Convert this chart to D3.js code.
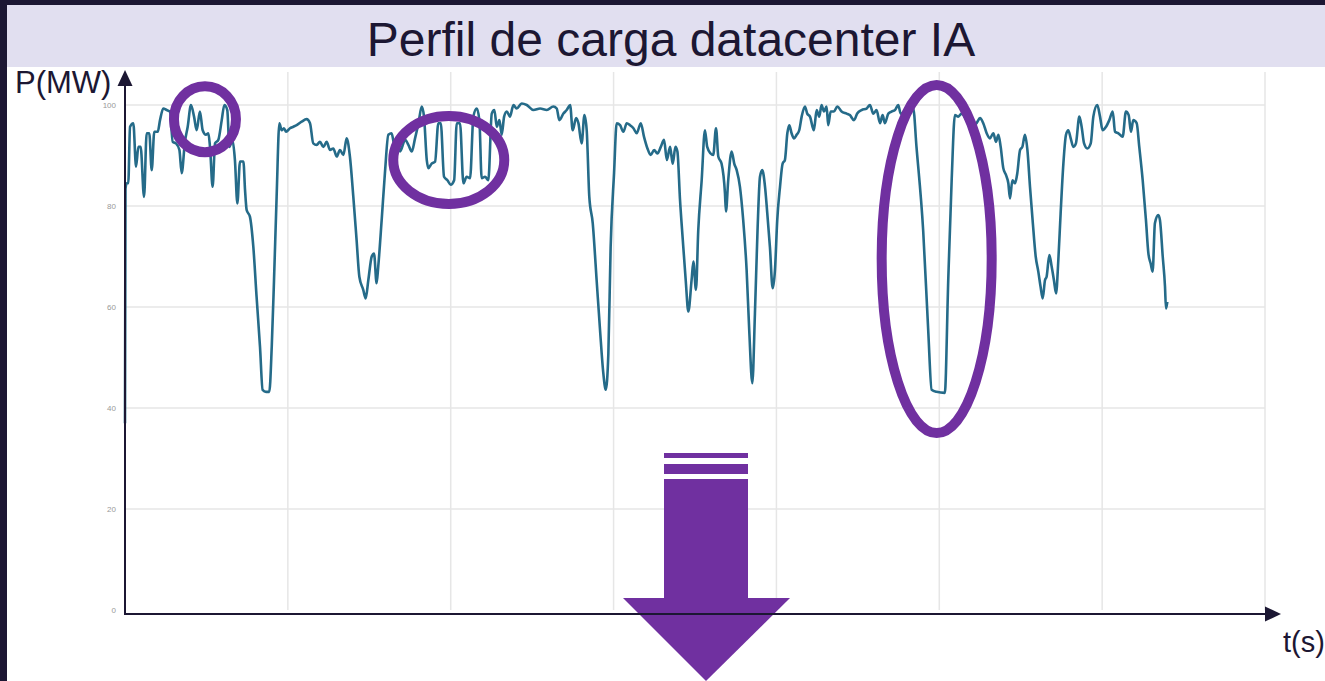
<!DOCTYPE html>
<html>
<head>
<meta charset="utf-8">
<script src="https://cdn.jsdelivr.net/npm/d3@7"></script>
<style>
  html, body { margin: 0; padding: 0; background: #1c1733; }
  svg { display: block; }
</style>
</head>
<body>
<svg id="chart" width="1325" height="681"></svg>
<script>
// time (s) and power (MW)
const timeS = [
  0, 0.3, 1, 2, 3.1, 5.1, 6.8, 8.2, 9.6, 11.7, 13.3, 14.9, 16.4, 18.0, 20.1, 21.5, 23.5, 25.6, 27.6, 29.3,
  31.3, 33.4, 34.8, 36.8, 38.5, 40.5, 42.4, 44, 46, 47.7, 49.7, 51.2, 52.2, 53.8, 55.3, 57.3, 59.4, 61, 62.8, 64.1,
  65.9, 67.5, 69, 70.6, 72.7, 73.7, 74.7, 76.7, 78.8, 80.8, 82.9, 84.5, 86.6, 88.6, 90.1, 91.5, 93.1, 94.8, 96.2, 97.6,
  98.9, 101.3, 103.4, 105.4, 108.5, 111.5, 113.6, 115.6, 117.7, 119.7, 121.8, 123.8, 125.9, 127.9, 130, 132, 134.1, 136.1, 138.1, 140.2,
  142.2, 143.9, 146.3, 147.8, 149.4, 151.5, 152.9, 154.5, 155.5, 157.6, 159.6, 161.7, 163.7, 165.5, 167,
  168.9, 172, 174, 176.1, 178.1, 180.2, 182.2, 183.6, 185.3, 186.3, 188.3, 190.4, 192.4, 193.9, 195.9, 198, 200, 202.1, 203.7, 205.7,
  207.8, 209.8, 211.9, 213.9, 216, 217.6, 219, 221.1, 223.1, 225.2, 226.8, 228.3, 229.9, 231.3, 232.8, 234.4, 236.4, 238.5, 240.5, 243.6,
  246.7, 250.8, 254.9, 259, 263, 265.1, 266.7, 269.2, 271.2, 273.3, 274.9, 277, 278.4, 280.4, 282.1, 283.5, 285.1, 287.2, 289.6, 291.7,
  293.7, 295.2, 296.8, 298.2, 300.3, 301.9, 304, 306, 308.1, 310.1, 312.2, 314.2, 316.7, 318.7, 320.8, 322.8, 324.9, 326.9, 329, 331,
  332.7, 334.7, 336.3, 338, 339.2, 340.8, 342.5, 344.3, 345.9,
  347.9, 349, 350.6, 352, 354.1, 356.1, 357.5, 359.6, 361.2, 362.9, 364.3, 366.3, 368.4, 369, 370.4, 372.5, 374.1, 375.6, 377.6, 379.6,
  381.7, 383.3, 385.2, 386.8, 388.4, 389.9, 391.3, 393, 394.4, 396, 397.7, 399.1, 400.5, 402.2, 403.8, 405.2, 406.7, 407.9, 409.3, 410.8,
  412.4, 414, 415.5, 417.5, 418.9, 420.6, 423, 424.7, 426.3, 427.7, 429.2, 430.8, 431.8, 433.3, 435.3, 437.4, 440, 443.1, 445.1, 447.6,
  449.6, 452.3, 455.4, 457.4, 459.5, 461.5, 463.6, 465.2, 466.6, 468.7, 470.7, 472.8, 474.8, 476.3, 480, 484, 486, 490.1, 493.2, 495.3,
  498.3, 503.4, 505.5, 507.6, 509.6, 511.7, 513.7, 516.8, 519.8, 522.9, 525,
  527, 529.1, 531.1, 533.2, 534.8, 536.3, 537.7, 539.3, 541, 542.4, 543.4, 544.9, 546.5, 547.9, 549.6, 551, 552.6, 554.1, 555.7, 557.3,
  559.2, 560.8, 562.2, 563.5, 564.9, 565.9, 567.6, 569, 570.4, 571.7, 573.1, 574.5, 576.2, 577.8, 579.2, 580.7, 582.3, 583.9, 586, 587.4,
  588.9, 590.9, 593, 594.6, 597, 598.7, 600.3, 602.4, 604.4, 606.5, 607.9, 610, 612.6, 614.6, 616.3, 617.7, 619.1, 621.2, 622.8, 624.9,
  626.9, 628.4, 629.8, 631, 632.4, 634.5, 635.5, 637.2, 638.6, 639.2, 640
];
const powerMW = [
  37, 83.4, 84.5, 84.5, 95.7, 96.4, 87.8, 91.7, 91.7, 81.8, 94.4, 94.4, 87.1, 94.7, 94.7, 97, 99.3, 99, 98.7, 92.7,
  92.4, 91.1, 86.5, 92.7, 95.7, 100, 97.7, 95, 98.7, 95, 94.1, 94.4, 91.7, 83.8, 92.4, 93.1, 97, 100, 99, 91.7,
  93.1, 89.1, 80.5, 88.8, 88.8, 83.2, 79.2, 77.9, 71.9, 62, 52.1, 43.6, 43.2, 43.2, 52.1, 65.3, 81.8, 96.4, 95, 95.4,
  94.7, 95.4, 95.7, 96, 96.7, 97.2, 96.4, 92.4, 92.1, 92.7, 91.7, 92.7, 91.1, 91.4, 89.8, 91.1, 90.1, 93.4, 89.8, 81.8,
  73.3, 66, 63.4, 61.7, 65.3, 70, 70.6, 64.7, 68, 77.2, 86.5, 94.1, 94.4, 92, 93.5,
  90.8, 93.1, 92.1, 90.8, 93.4, 96.4, 99.7, 97.7, 89.1, 87.5, 88.4, 88.8, 96.4, 96.4, 85.8, 85.1, 84.2, 85.1, 96.4, 96.4,
  84.5, 85.8, 85.5, 97.7, 99.3, 97, 85.5, 85.8, 85.1, 98.3, 99, 95.7, 97, 94.1, 97.7, 98.7, 97.7, 100, 99.3, 100.3,
  100, 99, 99.3, 99, 99.7, 99.3, 97, 98.3, 99, 100, 95, 97.4, 96.4, 92.4, 98, 95, 81.8, 76.6, 65.3, 55.4,
  46.9, 43.6, 50.8, 71.9, 86.5, 96.4, 96, 94.7, 96.4, 96, 95.4, 94.4, 96.4, 93.7, 91.4, 90.1, 91.1, 90.4, 91.7, 93.1,
  89.1, 91.7, 88.4, 91.7, 90.8, 81.2, 73.3, 65.3, 59.1,
  65.3, 69, 63.4, 75.2, 85.1, 95, 91.7, 90.4, 90.1, 95.4, 89.8, 88.4, 82.5, 78.9, 85.1, 90.8, 88.4, 87.1, 83.8, 77.2,
  67.3, 55.4, 44.9, 58.7, 75.2, 85.8, 87.1, 83.8, 78.5, 71.9, 63.7, 67.3, 77.2, 83.8, 88.4, 89.1, 94.4, 96, 94.4, 93.4,
  94.1, 95, 97.7, 99.7, 98.3, 97.7, 95, 99, 97.7, 100, 98.7, 99.7, 96, 98.7, 98.7, 99.7, 98.7, 98.3, 98, 97,
  98.3, 99, 99.3, 100, 98.3, 99, 96.4, 98, 96.4, 98.3, 98.7, 99, 100, 98.3, 98.5, 99.3, 91.7, 75.2, 55.4, 43.6,
  43.2, 43, 65.3, 85.1, 98, 97.7, 98.3, 97, 95.7, 96.4, 97.4,
  96.4, 94.4, 93.4, 94.4, 92.7, 94.1, 91.7, 87.5, 86.1, 84.5, 81.5, 85.1, 84.5, 86.5, 91.1, 91.7, 94.1, 91.1, 83.8, 77.2,
  70, 67, 64, 61.7, 65.3, 66, 70.3, 68, 65.3, 62.7, 69.3, 78.5, 88.4, 94.1, 95, 93.4, 91.7, 92.4, 97.7, 95.7,
  92.4, 91.4, 92.4, 97.7, 100, 97.7, 95, 95.7, 97, 98.7, 94.7, 94.4, 93.7, 98.7, 98, 94.7, 97, 96.4, 91.7, 85.1,
  77.2, 70.6, 68.6, 67, 76.6, 78.2, 77.2, 70, 64, 59.7, 61
];
const yTicks = [0, 20, 40, 60, 80, 100];
const xGrid = [100, 200, 300, 400, 500, 600, 700];

const title = "Perfil de carga datacenter IA";
const yLabel = "P(MW)";
const xLabel = "t(s)";

// highlighted zones (data space)
const highlights = [
  { t: 49.1, p: 97.2, rx: 31, ry: 33 },
  { t: 198.8, p: 89.1, rx: 55.5, ry: 44 },
  { t: 498.4, p: 69.5, rx: 55, ry: 174 }
];

const svg = d3.select("#chart"),
    width = +svg.attr("width"),
    height = +svg.attr("height");

const dark = "#1c1733",
    purple = "#7030a0",
    lineColor = "#256b89";

const x = d3.scaleLinear().domain([0, 700]).range([125, 1265]);
const y = d3.scaleLinear().domain([0, 100]).range([610, 105]);

// frame + title band
svg.append("rect").attr("x", 7).attr("y", 5).attr("width", width - 7).attr("height", height - 5).attr("fill", "#fff");
svg.append("rect").attr("x", 7).attr("y", 5).attr("width", width - 7).attr("height", 62).attr("fill", "#e1dff0");

svg.append("text")
    .attr("x", 671)
    .attr("y", 56)
    .attr("text-anchor", "middle")
    .style("font-family", "'Liberation Sans', Arial, sans-serif")
    .style("font-size", "48px")
    .attr("fill", dark)
    .text(title);

// grid
svg.append("g").selectAll("line")
    .data(yTicks.filter(d => d > 0))
    .enter().append("line")
    .attr("x1", x(0)).attr("x2", x(700))
    .attr("y1", d => y(d)).attr("y2", d => y(d))
    .attr("stroke", "#e6e6e6").attr("stroke-width", 1.5);

svg.append("g").selectAll("line")
    .data(xGrid)
    .enter().append("line")
    .attr("x1", d => x(d)).attr("x2", d => x(d))
    .attr("y1", 72).attr("y2", y(0))
    .attr("stroke", "#e6e6e6").attr("stroke-width", 1.5);

// y tick labels
svg.append("g").selectAll("text")
    .data(yTicks)
    .enter().append("text")
    .attr("x", 116)
    .attr("y", d => y(d))
    .attr("dy", "0.35em")
    .attr("text-anchor", "end")
    .style("font-family", "'Liberation Sans', Arial, sans-serif")
    .style("font-size", "8px")
    .attr("fill", "#999")
    .text(d => d);

// load profile
const line = d3.line()
    .x((d, i) => x(timeS[i]))
    .y(d => y(d))
    .curve(d3.curveMonotoneX);

svg.append("path")
    .datum(powerMW)
    .attr("d", line)
    .attr("fill", "none")
    .attr("stroke", lineColor)
    .attr("stroke-width", 2.6)
    .attr("stroke-linejoin", "round");

// highlight ellipses
svg.append("g").selectAll("ellipse")
    .data(highlights)
    .enter().append("ellipse")
    .attr("cx", d => x(d.t))
    .attr("cy", d => y(d.p))
    .attr("rx", d => d.rx)
    .attr("ry", d => d.ry)
    .attr("fill", "none")
    .attr("stroke", purple)
    .attr("stroke-width", 10);

// down arrow
const arrow = svg.append("g").attr("fill", purple);
arrow.append("rect").attr("x", 664).attr("y", 453).attr("width", 84).attr("height", 5);
arrow.append("rect").attr("x", 664).attr("y", 464).attr("width", 84).attr("height", 10);
arrow.append("rect").attr("x", 664).attr("y", 479).attr("width", 84).attr("height", 120);
arrow.append("path").attr("d", "M623,598 L790,598 L706,681 Z");

// axes with arrowheads
const axisY = 614;
svg.append("line")
    .attr("x1", 125).attr("x2", 125)
    .attr("y1", axisY).attr("y2", 80)
    .attr("stroke", dark).attr("stroke-width", 2);
svg.append("path").attr("d", "M125,70 L132.5,86 L117.5,86 Z").attr("fill", dark);

svg.append("line")
    .attr("x1", 124).attr("x2", 1270)
    .attr("y1", axisY).attr("y2", axisY)
    .attr("stroke", dark).attr("stroke-width", 2);
svg.append("path").attr("d", `M1281,${axisY} L1265,${axisY - 7.5} L1265,${axisY + 7.5} Z`).attr("fill", dark);

svg.append("text")
    .attr("x", 15).attr("y", 93)
    .style("font-family", "'Liberation Sans', Arial, sans-serif")
    .style("font-size", "31px")
    .attr("fill", dark)
    .text(yLabel);

svg.append("text")
    .attr("x", 1283).attr("y", 652)
    .style("font-family", "'Liberation Sans', Arial, sans-serif")
    .style("font-size", "29px")
    .attr("fill", dark)
    .text(xLabel);
</script>
</body>
</html>
